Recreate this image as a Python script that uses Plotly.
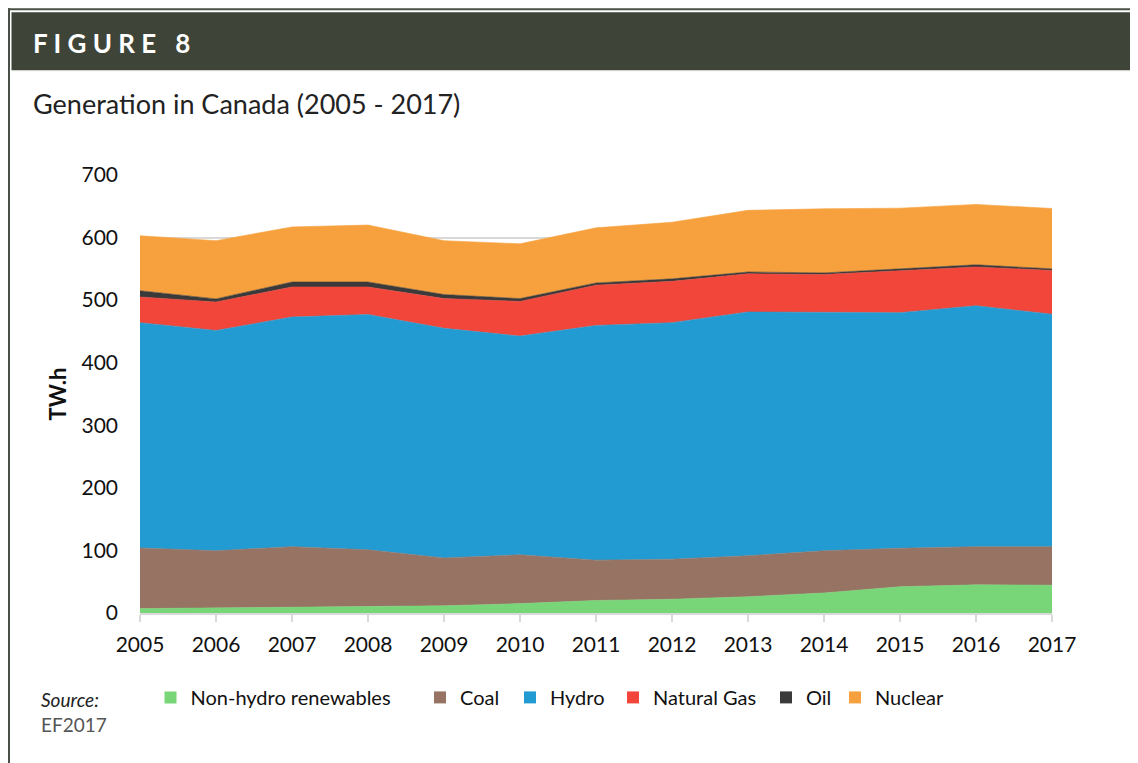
import plotly.graph_objects as go

years = list(range(2005, 2018))
non_hydro = [7, 8, 9, 10, 11.5, 15, 20, 22, 26, 32, 42, 45, 44.5]
coal = [97, 91.5, 97, 91, 76.5, 78, 64.5, 64, 65.5, 67.5, 61.5, 61, 61.5]
hydro = [360, 352, 367, 376, 367, 349.5, 375, 378, 389.5, 380.5, 376.5, 385, 371.5]
natural_gas = [41, 45.5, 48, 44, 47.5, 55.5, 64.5, 66, 61, 61, 67, 62, 70]
oil = [10, 5, 8, 8, 6.5, 4.5, 3.5, 4, 3, 2.5, 3, 3.5, 2.5]
nuclear = [88, 93, 88, 91, 86, 87.5, 88, 90.5, 98.5, 102.5, 97, 96.5, 96.5]

names = ["Non-hydro renewables", "Coal", "Hydro", "Natural Gas", "Oil", "Nuclear"]
colors = ["#78d678", "#977364", "#229bd2", "#f2463a", "#3a3a3a", "#f7a13e"]
values = [non_hydro, coal, hydro, natural_gas, oil, nuclear]

FONT = "Lato"
OFF = 8  # page body margin
W, H = 1138 - OFF, 763 - OFF
L, R, T, B = 140, 1052, 175, 613.5  # plot area in page pixels

fig = go.Figure()
for name, vals, col in zip(names, values, colors):
    fig.add_trace(go.Scatter(
        x=years, y=vals, name=name, mode="lines", stackgroup="one",
        line=dict(width=0.6, color=col), fillcolor=col, showlegend=False,
        legendgroup=name,
    ))

def px(x):
    return (x - L) / (R - L)

def py(y):
    return (B - y) / (B - T)

# legend entries (square swatches), one legend per entry for exact placement
square_centers = [170.5, 440, 530, 633, 786, 855]
legend_layouts = {}
for i, (name, col, cx) in enumerate(zip(names, colors, square_centers)):
    key = "legend" if i == 0 else f"legend{i + 1}"
    fig.add_trace(go.Bar(x=[None], y=[None], name=name, marker=dict(color=col, line=dict(width=0)),
                         legend=key, legendgroup=name, showlegend=True))
    legend_layouts[key] = dict(
        x=px(cx - 20), y=py(698), xanchor="left", yanchor="middle",
        orientation="h", bgcolor="rgba(0,0,0,0)", borderwidth=0,
        font=dict(family=FONT, size=20, color="#111111"),
    )

shapes = [
    dict(type="rect", xref="paper", yref="paper", x0=px(11.5), x1=px(1140), y0=py(70), y1=py(12),
         fillcolor="#3e4438", line=dict(width=0), layer="above"),
    dict(type="line", xref="paper", yref="paper", x0=px(8), x1=px(1140), y0=py(9), y1=py(9),
         line=dict(color="#4a5045", width=2)),
    dict(type="line", xref="paper", yref="paper", x0=px(9), x1=px(9), y0=py(8), y1=py(770),
         line=dict(color="#4a5045", width=2)),
    dict(type="line", xref="paper", yref="paper", x0=px(11.5), x1=px(1140), y0=py(70.5), y1=py(70.5),
         line=dict(color="#c8cbc4", width=1)),
]

annotations = [
    dict(text="<b>F I G U R E   8</b>", xref="paper", yref="paper", x=px(31), y=py(43),
         xanchor="left", yanchor="middle", showarrow=False,
         font=dict(family=FONT, size=26, color="white")),
    dict(text="Generation in Canada (2005 - 2017)", xref="paper", yref="paper", x=px(31), y=py(103),
         xanchor="left", yanchor="middle", showarrow=False,
         font=dict(family=FONT, size=27, color="#222222")),
    dict(text="<i>Source:</i>", xref="paper", yref="paper", x=px(39), y=py(700),
         xanchor="left", yanchor="middle", showarrow=False,
         font=dict(family=FONT, size=19, color="#222222")),
    dict(text="EF2017", xref="paper", yref="paper", x=px(39), y=py(725),
         xanchor="left", yanchor="middle", showarrow=False,
         font=dict(family=FONT, size=19, color="#555555")),
]

fig.update_layout(
    width=W, height=H,
    margin=dict(l=L - OFF, r=1138 - R, t=T - OFF, b=763 - B, pad=0),
    paper_bgcolor="white", plot_bgcolor="white",
    font=dict(family=FONT, size=20, color="#111111"),
    shapes=shapes, annotations=annotations,
    showlegend=True,
    xaxis=dict(range=[2005, 2017], tickmode="array", tickvals=years,
               ticktext=[str(y) for y in years],
               showgrid=False, showline=True, linecolor="#d9d9d9", linewidth=2,
               ticks="outside", ticklen=7, tickwidth=2, tickcolor="#d9d9d9",
               ticklabelstandoff=5,
               tickfont=dict(family=FONT, size=21, color="#111111"), zeroline=False),
    yaxis=dict(range=[0, 700], tickvals=[0, 100, 200, 300, 400, 500, 600, 700],
               showgrid=True, gridcolor="#d9d9d9", gridwidth=2, zeroline=False,
               showline=False, ticks="", ticklabelstandoff=21,
               tickfont=dict(family=FONT, size=21, color="#111111"),
               title=dict(text="<b>TW.h</b>", standoff=8,
                          font=dict(family=FONT, size=22, color="#111111"))),
    **legend_layouts,
)

fig.write_html("out.html")
